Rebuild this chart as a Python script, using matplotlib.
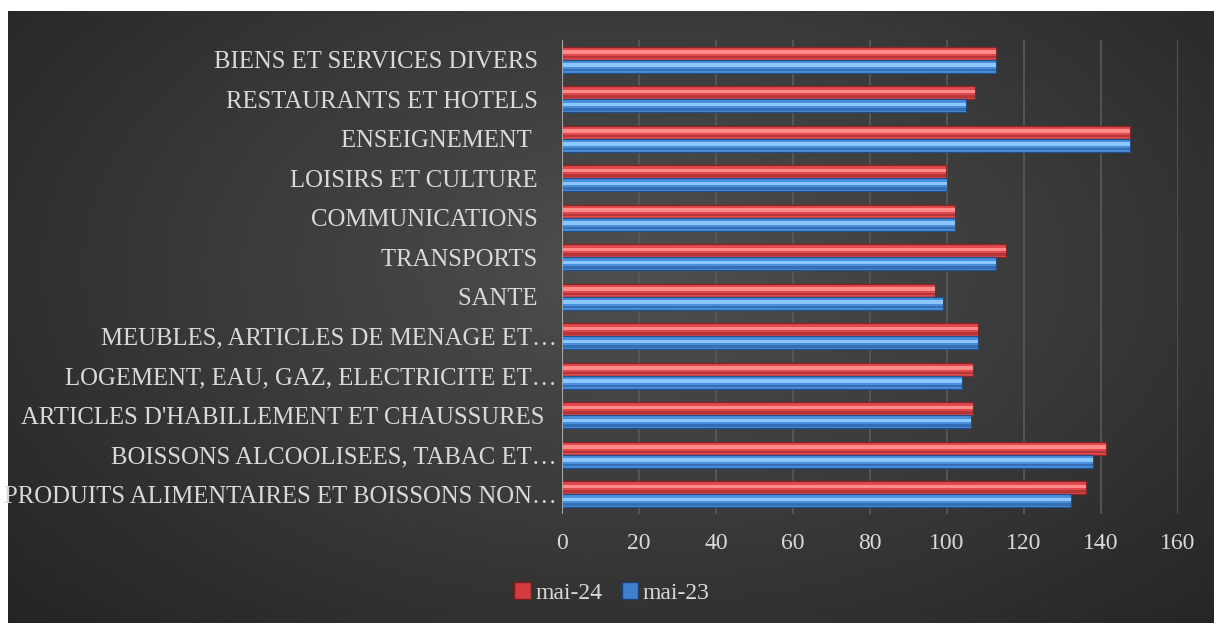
import numpy as np
import matplotlib.pyplot as plt
from matplotlib.patches import Patch

# categories listed bottom to top, as in the source sheet
categories = [
    "PRODUITS ALIMENTAIRES ET BOISSONS NON…",
    "BOISSONS ALCOOLISEES, TABAC ET…",
    "ARTICLES D'HABILLEMENT ET CHAUSSURES  ",
    "LOGEMENT, EAU, GAZ, ELECTRICITE ET…",
    "MEUBLES, ARTICLES DE MENAGE ET…",
    "SANTE   ",
    "TRANSPORTS   ",
    "COMMUNICATIONS   ",
    "LOISIRS ET CULTURE   ",
    "ENSEIGNEMENT    ",
    "RESTAURANTS ET HOTELS   ",
    "BIENS ET SERVICES DIVERS   ",
]
mai_24 = [136.2, 141.4, 106.8, 106.8, 108.1, 97.0, 115.4, 102.0, 99.7, 147.6, 107.3, 112.8]
mai_23 = [132.3, 138.0, 106.3, 104.0, 108.1, 98.9, 112.8, 102.0, 99.9, 147.6, 105.0, 112.8]
x_ticks = [0, 20, 40, 60, 80, 100, 120, 140, 160]

plt.rcParams['font.family'] = ['Liberation Serif', 'DejaVu Serif']
TXT = '#d9d9d9'

fig = plt.figure(figsize=(12.14, 6.23), dpi=100, facecolor='white')

# dark radial gradient background
bg = fig.add_axes([8 / 1214, 0, 1 - 8 / 1214, 1 - 11 / 623])
gx, gy = np.meshgrid(np.linspace(0, 1, 400), np.linspace(0, 1, 200))
dist = np.sqrt(((gx - 0.52) / 0.75) ** 2 + ((gy - 0.42) / 0.9) ** 2)
shade = np.clip(0.31 - 0.18 * dist, 0.14, 0.31)
bg.imshow(np.dstack([shade] * 3), aspect='auto', extent=[0, 1, 0, 1], origin='upper')
bg.axis('off')

ax = fig.add_axes([562 / 1214, 1 - 514 / 623, (1178 - 562) / 1214, (514 - 40) / 623])
ax.patch.set_alpha(0)

y = np.arange(len(categories))
h = 0.33


def bevel_bars(pos, vals, base, light, dark):
    ax.barh(pos, vals, height=h, color=base, edgecolor=dark, linewidth=0.9, zorder=3)
    ax.barh(pos + h * 0.1, vals, height=h * 0.28, color=light, linewidth=0, zorder=4)
    ax.barh(pos - h * 0.3, vals, height=h * 0.2, color=dark, linewidth=0, alpha=0.5, zorder=4)


bevel_bars(y + h / 2, mai_24, '#e04a4c', '#ff8a8a', '#8e2224')
bevel_bars(y - h / 2, mai_23, '#4a8fdc', '#8cc6ff', '#1f4f8c')

ax.set_xlim(0, 160)
ax.set_ylim(-0.5, len(categories) - 0.5)
ax.set_xticks(x_ticks)
ax.set_xticklabels([str(t) for t in x_ticks], color=TXT, fontsize=17)
ax.set_yticks(y)
ax.set_yticklabels(categories, color=TXT, fontsize=17.8)
ax.tick_params(axis='x', length=0, pad=14)
ax.tick_params(axis='y', length=0, pad=4)
ax.grid(axis='x', color='#5a5a5a', linewidth=1.2, zorder=0)
for s in ax.spines.values():
    s.set_visible(False)
ax.axvline(0, color='#a6a6a6', linewidth=1.5, zorder=5)

handles = [Patch(facecolor='#d23c3e', edgecolor='#7a1a1c', label='mai-24'),
           Patch(facecolor='#3f7fcc', edgecolor='#1a3f72', label='mai-23')]
fig.legend(handles=handles, loc='center', bbox_to_anchor=(612 / 1214, 1 - 593 / 623), ncol=2,
           frameon=False, fontsize=17, labelcolor=TXT, handlelength=0.7, handleheight=0.7,
           handletextpad=0.2, columnspacing=0.8)

fig.savefig('out.png', dpi=100, facecolor=fig.get_facecolor())
